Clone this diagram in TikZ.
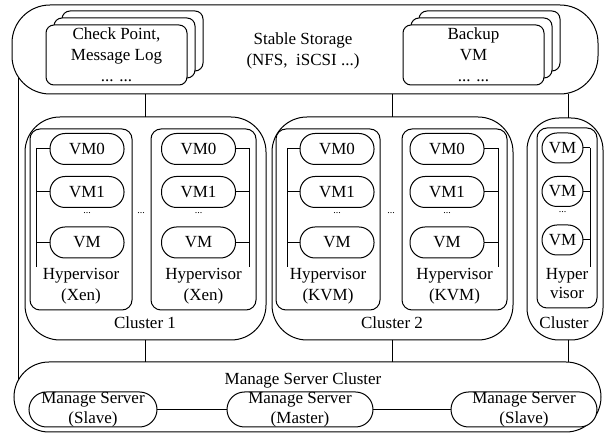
\documentclass[tikz,border=0pt]{standalone}
\usepackage{fontspec}
\setmainfont{Liberation Serif}
\begin{document}
\begin{tikzpicture}[x=1pt,y=-1pt,line width=1pt,
  every node/.style={inner sep=0pt,outer sep=0pt},
  frame/.style={draw,fill=white,rectangle},
  txt/.style={font=\fontsize{17}{21}\selectfont,align=center},
  vm/.style={draw,fill=white,rounded corners=15pt,minimum width=74pt,minimum height=31pt,font=\fontsize{17}{21}\selectfont},
  vms/.style={vm,minimum width=41pt,minimum height=30pt},
  dots/.style={font=\fontsize{10}{10}\selectfont},
  ms/.style={draw,fill=white,rounded corners=17.5pt,minimum height=35pt}]
\useasboundingbox (0,0) rectangle (606,435);
% long left line
\coordinate (lt) at (18,70);
\coordinate (lb) at (18,395);
\draw (lt) -- (lb);
% stable storage
\node[frame,rounded corners=38pt,minimum width=586pt,minimum height=89pt] (storage) at (305,49.5) {};
\node[frame,rounded corners=8pt,minimum width=141pt,minimum height=60pt] (cp3) at (132.5,41) {};
\node[frame,rounded corners=8pt,minimum width=141pt,minimum height=60pt] (cp2) at (124.5,48) {};
\node[frame,rounded corners=8pt,minimum width=141pt,minimum height=60pt] (cp1) at (116.5,55) {};
\node[txt] (cpt) at (cp1) {Check Point,\\Message Log\\... ...};
\node[frame,rounded corners=8pt,minimum width=141pt,minimum height=60pt] (bk3) at (489.5,41) {};
\node[frame,rounded corners=8pt,minimum width=141pt,minimum height=60pt] (bk2) at (481.5,48) {};
\node[frame,rounded corners=8pt,minimum width=141pt,minimum height=60pt] (bk1) at (473.5,55) {};
\node[txt] (bkt) at (bk1) {Backup\\VM\\... ...};
\node[txt] (sst) at (303,51) {Stable Storage\\(NFS,\ \ iSCSI ...)};
% clusters
\node[frame,rounded corners=35pt,minimum width=241pt,minimum height=223pt] (cl1) at (145.5,228.5) {};
\node[frame,rounded corners=35pt,minimum width=241pt,minimum height=223pt] (cl2) at (392.5,228.5) {};
\node[frame,rounded corners=32pt,minimum width=76pt,minimum height=222pt] (cl3) at (565,229) {};
\coordinate (c3n) at ([xshift=3pt]cl3.north);
\coordinate (c3s) at ([xshift=3pt]cl3.south);
\node[txt] (cl1t) at (145,323) {Cluster 1};
\node[txt] (cl2t) at (392,323) {Cluster 2};
\node[txt] (cl3t) at (564,323) {Cluster};
% hypervisors
\node[frame,rounded corners=10pt,minimum width=102pt,minimum height=181pt] (h1) at (81,219.5) {};
\node[frame,rounded corners=10pt,minimum width=105pt,minimum height=181pt] (h2) at (203.5,219.5) {};
\node[frame,rounded corners=10pt,minimum width=104pt,minimum height=181pt] (h3) at (328,219.5) {};
\node[frame,rounded corners=10pt,minimum width=105pt,minimum height=181pt] (h4) at (454.5,219.5) {};
\node[frame,rounded corners=10pt,minimum width=60pt,minimum height=180pt] (h5) at (567,218) {};
\node[txt] at (81,286) {Hypervisor\\(Xen)};
\node[txt] at (203.5,286) {Hypervisor\\(Xen)};
\node[txt] at (328,286) {Hypervisor\\(KVM)};
\node[txt] at (454.5,286) {Hypervisor\\(KVM)};
\node[txt,font=\fontsize{17}{19}\selectfont] at (567,284) {Hyper\\visor};
% VMs
\foreach \n/\x in {1/87,2/198.5,3/337,4/447}{
  \node[vm] (v\n a) at (\x,149) {VM0};
  \node[vm] (v\n b) at (\x,192) {VM1};
  \node[vm] (v\n c) at (\x,242.5) {VM};
  \node[dots] at (\x,213) {...};
}
\node[vms] (v5a) at (562.5,148) {VM};
\node[vms] (v5b) at (562.5,191.5) {VM};
\node[vms] (v5c) at (562.5,240) {VM};
\node[dots] at (562.5,212) {...};
\node[dots] (d1) at (141,213) {...};
\node[dots] (d2) at (391,213) {...};
% VM bars
\foreach \n/\x/\s in {1/36/west,2/249/east,3/287/west,4/498/east,5/590/east}{
  \coordinate (b\n t) at (\x,148);
  \coordinate (b\n b) at (\x,267);
  \draw (b\n t) -- (b\n b);
  \foreach \r in {a,b,c}{
    \draw (v\n\r.\s) -- (v\n\r.\s -| b\n t);
  }
}
% manage servers
\node[frame,rounded corners=35pt,minimum width=587pt,minimum height=70pt] (mgr) at (307.5,397) {};
\node[txt] (mgrt) at (303,380) {Manage Server Cluster};
\node[ms,minimum width=128pt] (ms1) at (93,409.5) {};
\node[ms,minimum width=146pt] (ms2) at (300,409.5) {};
\node[ms,minimum width=146pt] (ms3) at (524,409.5) {};
\node[txt,font=\fontsize{17}{20}\selectfont] at (ms1) {Manage Server\\(Slave)};
\node[txt,font=\fontsize{17}{20}\selectfont] at (ms2) {Manage Server\\(Master)};
\node[txt,font=\fontsize{17}{20}\selectfont] at (ms3) {Manage Server\\(Slave)};
\draw (ms1.east) -- (ms2.west);
\draw (ms2.east) -- (ms3.west);
% connectors
\draw (storage.south -| cl1.north) -- (cl1.north);
\draw (storage.south -| cl2.north) -- (cl2.north);
\draw (storage.south -| c3n) -- (c3n);
\draw (cl1.south) -- (cl1.south |- mgr.north);
\draw (cl2.south) -- (cl2.south |- mgr.north);
\draw (c3s) -- (c3s |- mgr.north);
\end{tikzpicture}
\end{document}
